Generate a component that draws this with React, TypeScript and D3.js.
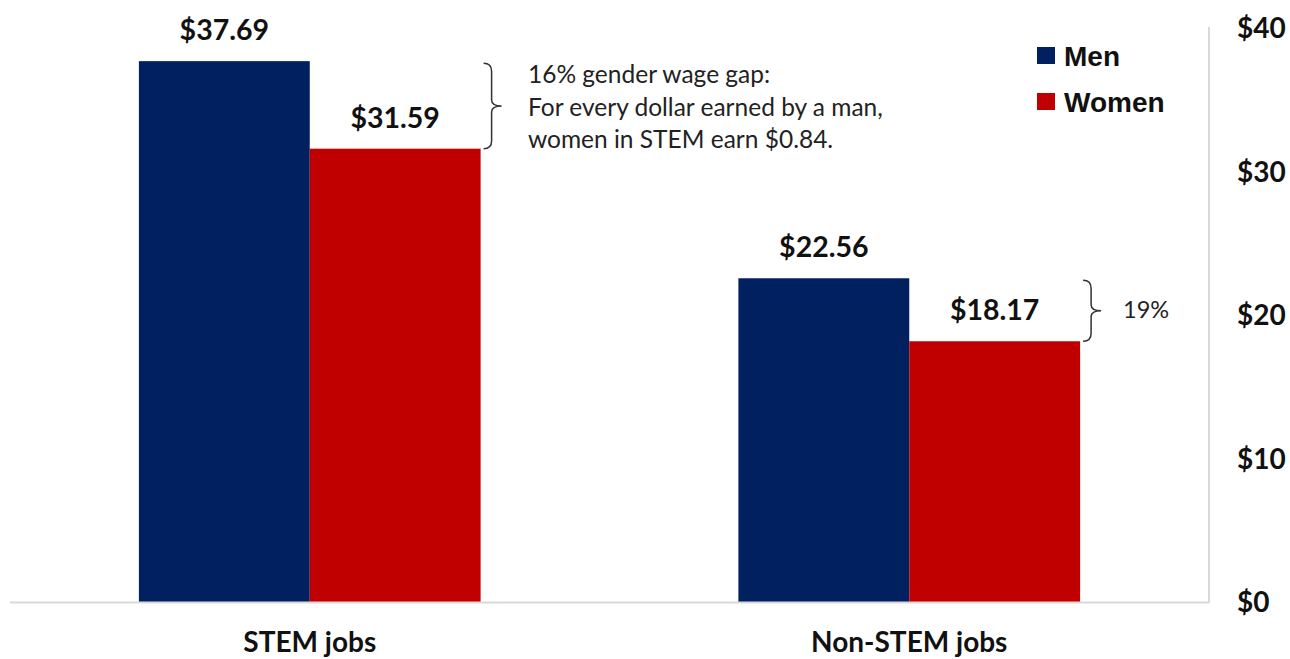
import React from "react";
import * as d3 from "d3";

const categories = ["STEM jobs", "Non-STEM jobs"];
const seriesNames = ["Men", "Women"];
const menValues = [37.69, 22.56];
const womenValues = [31.59, 18.17];
const yTicks = [0, 10, 20, 30, 40];
const gapLabels = [
  ["16% gender wage gap:", "For every dollar earned by a man,", "women in STEM earn $0.84."],
  ["19%"],
];

const colors = ["#002060", "#C00000"];
const W = 1290;
const H = 659;
const FONT = "Lato, 'Open Sans', sans-serif";

export default function App() {
  const left = 10;
  const right = 1209;
  const top = 28;
  const bottom = 602;

  const x = d3.scaleBand<string>().domain(categories).range([left, right]).paddingInner(0.43).paddingOuter(0.215);
  const y = d3.scaleLinear().domain([0, 40]).range([bottom, top]);
  const xs = d3.scaleBand<string>().domain(seriesNames).range([0, x.bandwidth()]);
  const series = [menValues, womenValues];

  const brace = (x0: number, y0: number, y1: number) => {
    const ym = (y0 + y1) / 2;
    const w = 8;
    return `M${x0},${y0} Q${x0 + w},${y0} ${x0 + w},${y0 + 8} L${x0 + w},${ym - 6} Q${x0 + w},${ym} ${x0 + w + 10},${ym} Q${x0 + w},${ym} ${x0 + w},${ym + 6} L${x0 + w},${y1 - 8} Q${x0 + w},${y1} ${x0},${y1}`;
  };

  return (
    <svg width={W} height={H} style={{ position: "absolute", left: 0, top: 0 }} fontFamily={FONT}>
      <rect width={W} height={H} fill="#fff" />
      {categories.map((c, i) => (
        <g key={c}>
          {seriesNames.map((s, j) => {
            const v = series[j][i];
            const bx = (x(c) as number) + (xs(s) as number);
            return (
              <g key={s}>
                <rect x={bx} y={y(v)} width={xs.bandwidth()} height={bottom - y(v)} fill={colors[j]} />
                <text x={bx + xs.bandwidth() / 2} y={y(v) - 21} textAnchor="middle" fontSize={28.5} fontWeight={700} fill="#111">
                  {d3.format("$.2f")(v)}
                </text>
              </g>
            );
          })}
          <text x={(x(c) as number) + x.bandwidth() / 2} y={652} textAnchor="middle" fontSize={28} fontWeight={700} fill="#111">
            {c}
          </text>
        </g>
      ))}
      <line x1={left} x2={right} y1={bottom + 0.5} y2={bottom + 0.5} stroke="#d9d9d9" strokeWidth={2} />
      <line x1={right} x2={right} y1={top - 1} y2={bottom + 1} stroke="#d9d9d9" strokeWidth={2} />
      {yTicks.map((t) => (
        <text key={t} x={1237} y={y(t)} dy="0.36em" fontSize={28} fontWeight={700} fill="#111">
          {d3.format("$")(t)}
        </text>
      ))}
      {/* braces */}
      {categories.map((c, i) => {
        const bx = (x(c) as number) + x.bandwidth() + 3;
        const y0 = y(menValues[i]) + 2;
        const y1 = y(womenValues[i]);
        return <path key={c} d={brace(bx, y0, y1)} fill="none" stroke="#333" strokeWidth={1.5} />;
      })}
      <g fontSize={24.5} fill="#222">
        {gapLabels[0].map((t, k) => (
          <text key={k} x={528} y={83 + k * 32.5}>
            {t}
          </text>
        ))}
        <text x={1123} y={(y(menValues[1]) + y(womenValues[1])) / 2 + 8.5} fontSize={23.5}>{gapLabels[1][0]}</text>
      </g>
      {/* legend */}
      {seriesNames.map((s, j) => (
        <g key={s} transform={`translate(1037,${47 + j * 46})`}>
          <rect width={18} height={17} fill={colors[j]} />
          <text x={27} y={8.5} dy="0.36em" fontSize={28} fontWeight={700} fill="#111" fontFamily="'Liberation Sans', Arial, sans-serif">
            {s}
          </text>
        </g>
      ))}
    </svg>
  );
}
